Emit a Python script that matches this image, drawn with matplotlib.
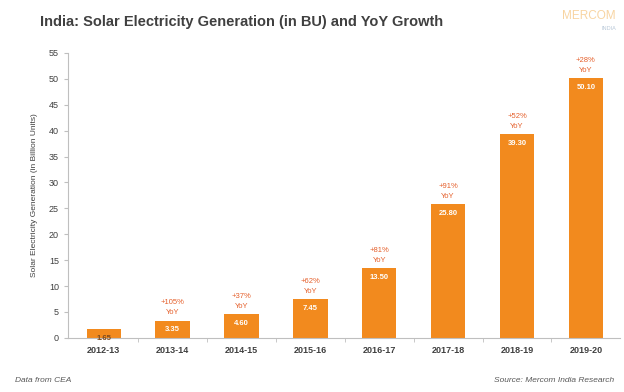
import matplotlib.pyplot as plt

years = ["2012-13", "2013-14", "2014-15", "2015-16", "2016-17", "2017-18", "2018-19", "2019-20"]
generation = [1.65, 3.35, 4.60, 7.45, 13.50, 25.80, 39.30, 50.10]
value_labels = ["1.65", "3.35", "4.60", "7.45", "13.50", "25.80", "39.30", "50.10"]
growth_labels = ["", "+105%", "+37%", "+62%", "+81%", "+91%", "+52%", "+28%"]

bar_color = "#F28A1E"
growth_color = "#E5602C"

plt.rcParams['font.family'] = ['Liberation Sans', 'DejaVu Sans']

fig = plt.figure(figsize=(6.24, 3.92), dpi=100)
ax = fig.add_axes([0.109, 0.138, 0.885, 0.727])

x = range(len(years))
bars = ax.bar(x, generation, width=0.5, color=bar_color, zorder=2)

for i, b in enumerate(bars):
    h = b.get_height()
    ax.annotate(value_labels[i], (b.get_x() + b.get_width() / 2, h),
                xytext=(0, -4), textcoords="offset points",
                ha="center", va="top", fontsize=5.5, fontweight="bold",
                color="white" if i > 0 else "#7a4a20")
    if growth_labels[i]:
        ax.annotate(growth_labels[i] + "\nYoY", (b.get_x() + b.get_width() / 2, h),
                    xytext=(0, 3), textcoords="offset points",
                    ha="center", va="bottom", fontsize=5.5, color=growth_color,
                    linespacing=1.6)

ax.set_xlim(-0.52, 7.5)
ax.set_ylim(0, 55)
ax.set_yticks(range(0, 56, 5))
ax.set_xticks(list(x))
ax.set_xticklabels(years, fontsize=6.5, fontweight="bold", color="#404040")
ax.tick_params(axis="y", labelsize=6.5, colors="#404040", length=3, color="#bfbfbf")
ax.tick_params(axis="x", length=0, pad=6)
ax.set_xticks([i + 0.5 for i in range(len(years) - 1)], minor=True)
ax.tick_params(axis="x", which="minor", length=3, color="#bfbfbf")

for s in ["top", "right"]:
    ax.spines[s].set_visible(False)
ax.spines["left"].set_color("#bfbfbf")
ax.spines["bottom"].set_color("#bfbfbf")
ax.spines["left"].set_linewidth(0.8)
ax.spines["bottom"].set_linewidth(0.8)

ax.set_ylabel("Solar Electricity Generation (in Billion Units)", fontsize=6, color="#404040", labelpad=8)

fig.text(40 / 624, 1 - 22 / 392, "India: Solar Electricity Generation (in BU) and YoY Growth",
         fontsize=10.5, fontweight="bold", color="#404040", va="center", ha="left")

fig.text(1 - 8 / 624, 1 - 16 / 392, "MERCOM", fontsize=8.5, color="#F5C27A", alpha=0.7,
         ha="right", va="center")
fig.text(1 - 8 / 624, 1 - 29 / 392, "INDIA", fontsize=4, color="#9ab0c8", alpha=0.7,
         ha="right", va="center")

fig.text(15 / 624, 1 - 381 / 392, "Data from CEA", fontsize=6, style="italic", color="#595959",
         va="center", ha="left")
fig.text(1 - 10 / 624, 1 - 381 / 392, "Source: Mercom India Research", fontsize=6, style="italic",
         color="#595959", va="center", ha="right")

fig.savefig("out.png", dpi=100)
